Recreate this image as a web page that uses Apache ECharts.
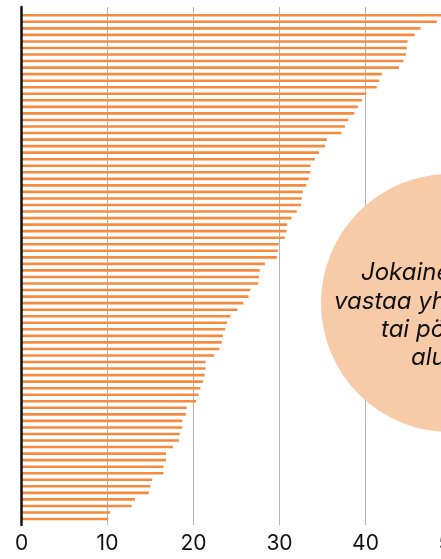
<!DOCTYPE html>
<html>
<head>
<meta charset="utf-8">
<script src="https://cdn.jsdelivr.net/npm/echarts@6/dist/echarts.min.js"></script>
<style>
  html, body { margin: 0; padding: 0; background: #fff; }
  #main { width: 441px; height: 559px; }
</style>
</head>
<body>
<div id="main"></div>
<script>
// yksi arvo per viiva, suurimmasta pienimpään
var values = [
    49.0, 48.3, 46.4, 45.7, 44.9, 44.8, 44.7, 44.4, 43.9, 41.9,
    41.6, 41.3, 40.1, 39.6, 39.1, 38.7, 38.0, 37.6, 37.2, 35.5,
    35.3, 34.6, 34.1, 33.6, 33.6, 33.4, 33.1, 32.7, 32.6, 32.5,
    32.0, 31.4, 30.9, 30.8, 30.6, 29.9, 29.8, 29.7, 28.3, 27.7,
    27.6, 27.5, 26.6, 26.4, 25.8, 25.1, 24.3, 23.9, 23.7, 23.4,
    23.3, 23.0, 22.4, 21.4, 21.4, 21.3, 21.1, 20.8, 20.6, 20.3,
    19.2, 19.1, 18.7, 18.7, 18.4, 18.3, 17.6, 16.8, 16.8, 16.5,
    16.5, 15.2, 15.0, 14.8, 13.2, 12.8, 10.3, 10.1
];
var categories = values.map(function (v, i) { return 'Alue ' + (i + 1); });
var xTicks = [0, 10, 20, 30, 40, 50];
var noteLines = ['Jokainen viiva', 'vastaa yhtä kuntaa', 'tai pöytäkirja-', 'aluetta'];

var chart = echarts.init(document.getElementById('main'), null, { renderer: 'canvas' });

// pallon tekstirivit, jokainen rivi omana tekstinään
var noteX = [361, 334, 381, 411];
var noteGraphics = noteLines.map(function (line, i) {
    return {
        type: 'text',
        z: 11,
        x: noteX[i],
        y: 273 + i * 28.3,
        style: {
            text: line,
            font: 'italic 24px Inter',
            fill: '#111111',
            textAlign: 'left',
            textVerticalAlign: 'middle'
        }
    };
});

var option = {
    animation: false,
    backgroundColor: '#ffffff',
    grid: [
        // ruudukko + akselit (oikea reuna jatkuu kuvan ulkopuolelle)
        { left: 21.5, width: 430, top: 7, bottom: 34, containLabel: false, outerBoundsMode: 'none' },
        // palkit
        { left: 21.5, width: 430, top: 12, bottom: 36.7, containLabel: false, outerBoundsMode: 'none' }
    ],
    xAxis: [
        {
            gridIndex: 0,
            type: 'value',
            min: xTicks[0],
            max: xTicks[xTicks.length - 1],
            interval: 10,
            axisLine: { show: false },
            axisTick: { show: false },
            splitLine: { show: true, lineStyle: { color: '#b4b4b4', width: 1 } },
            axisLabel: {
                margin: 8,
                fontFamily: 'Inter',
                fontSize: 21,
                color: '#111111',
                formatter: function (v) { return xTicks.indexOf(v) >= 0 ? String(v) : ''; }
            }
        },
        {
            gridIndex: 1,
            type: 'value',
            min: 0,
            max: 50,
            show: false
        }
    ],
    yAxis: [
        {
            gridIndex: 0,
            type: 'value',
            min: 0,
            max: 1,
            z: 5,
            axisLine: { show: true, lineStyle: { color: '#111111', width: 2.5 } },
            axisTick: { show: false },
            axisLabel: { show: false },
            splitLine: { show: false }
        },
        {
            gridIndex: 1,
            type: 'category',
            inverse: true,
            data: categories,
            show: false
        }
    ],
    graphic: [
        {
            type: 'circle',
            z: 10,
            shape: { cx: 450, cy: 303, r: 129 },
            style: { fill: '#f8cba8' }
        }
    ].concat(noteGraphics),
    series: [
        {
            type: 'bar',
            xAxisIndex: 1,
            yAxisIndex: 1,
            data: values,
            barWidth: 2.6,
            itemStyle: { color: '#f48b3e' },
            silent: true
        }
    ]
};

chart.setOption(option);
</script>
</body>
</html>
